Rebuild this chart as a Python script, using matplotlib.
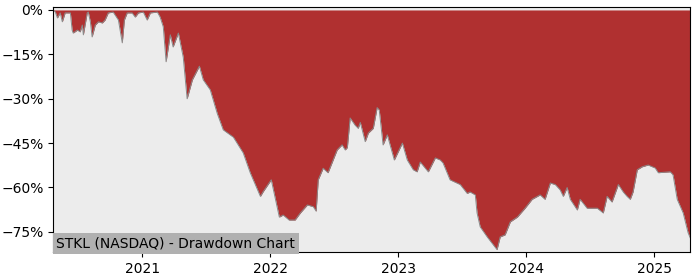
import numpy as np
import pandas as pd
import matplotlib
matplotlib.use("Agg")
import matplotlib.pyplot as plt
import matplotlib.dates as mdates
import matplotlib.ticker as mticker

#=============================================================================
# STKL drawdown, values (percent)
_TITLE = "STKL (NASDAQ) - Drawdown Chart"

dates = [
    "2020-04-22", "2020-04-28", "2020-05-04", "2020-05-12", "2020-05-18", "2020-05-26",
    "2020-06-10", "2020-06-15", "2020-06-18", "2020-06-30", "2020-07-08",
    "2020-07-14", "2020-07-17", "2020-07-28", "2020-07-31", "2020-08-06",
    "2020-08-11", "2020-08-20", "2020-08-29", "2020-09-09", "2020-09-17",
    "2020-09-26", "2020-10-10", "2020-10-25", "2020-11-05", "2020-11-11",
    "2020-11-19", "2020-12-03", "2020-12-12", "2020-12-21", "2021-01-04",
    "2021-01-15", "2021-01-24", "2021-02-13", "2021-02-21", "2021-03-02",
    "2021-03-10", "2021-03-22", "2021-03-30", "2021-04-14",
    "2021-04-28", "2021-05-09", "2021-05-24", "2021-06-13", "2021-06-24",
    "2021-07-14", "2021-08-03", "2021-08-20", "2021-09-18", "2021-10-16",
    "2021-11-05", "2021-12-04", "2021-12-12", "2022-01-04", "2022-01-27",
    "2022-02-07", "2022-02-24", "2022-03-13", "2022-03-28", "2022-04-17",
    "2022-05-04", "2022-05-12", "2022-05-18", "2022-06-01", "2022-06-15",
    "2022-07-11", "2022-07-25", "2022-08-03", "2022-08-09", "2022-08-17",
    "2022-08-31", "2022-09-09", "2022-09-15", "2022-09-29", "2022-10-08",
    "2022-10-22", "2022-11-02", "2022-11-08", "2022-11-19", "2022-12-01",
    "2022-12-21", "2023-01-13", "2023-01-27", "2023-02-13", "2023-02-24",
    "2023-03-05", "2023-03-28", "2023-04-17", "2023-05-01", "2023-05-09",
    "2023-05-29", "2023-06-27", "2023-07-17", "2023-07-25", "2023-08-09",
    "2023-08-14", "2023-08-23", "2023-09-12", "2023-10-10", "2023-10-19",
    "2023-11-02", "2023-11-17", "2023-12-07", "2023-12-29", "2024-01-18",
    "2024-02-10", "2024-02-24", "2024-03-10", "2024-03-24", "2024-04-07",
    "2024-04-16", "2024-04-27", "2024-05-06", "2024-05-26", "2024-06-03",
    "2024-06-23", "2024-07-22", "2024-08-08", "2024-08-19", "2024-09-02",
    "2024-09-20", "2024-10-04", "2024-10-15", "2024-10-24", "2024-11-01",
    "2024-11-13", "2024-11-27", "2024-12-14", "2025-01-03", "2025-01-12",
    "2025-02-15", "2025-02-23", "2025-03-07", "2025-03-24", "2025-04-07",
    "2025-04-13",
]
drawdown = [
    0.0, -0.7, -2.7, -1.0, -4.0, -1.0,
    -1.0, -6.8, -7.8, -6.8, -7.4,
    -5.1, -8.4, -1.0, -0.7, -4.0,
    -9.1, -5.1, -4.0, -4.4, -3.4,
    -1.0, -0.7, -3.4, -11.1, -3.4,
    -1.0, -1.0, -2.4, -1.0, -0.7,
    -3.4, -1.0, -0.7, -2.4, -5.7,
    -17.5, -8.4, -12.5, -7.8,
    -16.0, -30.0, -23.6, -19.0, -23.6,
    -27.0, -35.0, -40.5, -43.0, -48.3,
    -55.0, -63.0, -61.4, -57.4, -70.0,
    -69.3, -71.0, -71.0, -68.6, -65.9,
    -66.5, -68.0, -57.4, -53.5, -55.0,
    -47.3, -45.6, -47.3, -46.5, -36.5,
    -38.9, -40.0, -38.0, -44.5, -41.6,
    -40.0, -33.0, -33.8, -45.6, -42.2,
    -50.7, -45.0, -50.7, -54.0, -54.7,
    -51.4, -54.7, -50.0, -50.7, -51.7,
    -57.4, -59.0, -62.0, -61.5, -62.5,
    -68.6, -73.3, -76.7, -81.0, -76.7,
    -76.0, -71.6, -70.0, -67.0, -64.0,
    -62.5, -64.0, -58.5, -59.0, -60.8,
    -63.0, -60.0, -64.0, -67.6, -64.0,
    -67.0, -67.0, -68.6, -63.0, -64.9,
    -59.0, -61.5, -63.0, -64.0, -61.5,
    -54.0, -53.0, -52.4, -53.4, -55.0,
    -54.7, -55.7, -64.0, -68.6, -75.3,
    -77.0,
]

#-----------------------------------------------------------------------------
x = pd.to_datetime(dates)
dd = np.array(drawdown)

fig = plt.figure(figsize=(7, 2.8), dpi=100)
ax = fig.add_axes([0.076, 0.1, 0.91, 0.875])
ax.set_facecolor("#ececec")

ax.fill_between(x, dd, 0, color="#b03030", linewidth=0)
ax.plot(x, dd, color="#8a8a8a", linewidth=0.7)

ax.set_xlim(x[0], x[-1])
ax.set_ylim(-81.8, 1.0)
ax.set_yticks([0, -15, -30, -45, -60, -75])
ax.yaxis.set_major_formatter(mticker.PercentFormatter(xmax=100, decimals=0))
ax.xaxis.set_major_locator(mdates.YearLocator())
ax.xaxis.set_major_formatter(mdates.DateFormatter("%Y"))
ax.tick_params(labelsize=10)

ax.text(0.005, 0.035, _TITLE, transform=ax.transAxes, fontsize=10,
        va="center", ha="left",
        bbox=dict(facecolor="#b0b0b0", edgecolor="none", pad=2.5))

fig.savefig("out.png", dpi=100)
